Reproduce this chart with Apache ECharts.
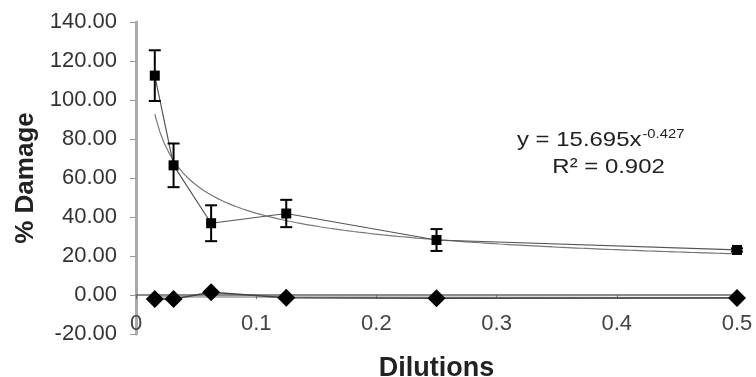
<!DOCTYPE html>
<html>
<head>
<meta charset="utf-8">
<script src="https://cdn.jsdelivr.net/npm/echarts@6/dist/echarts.min.js"></script>
<style>
html,body{margin:0;padding:0;background:#fff;}
#chart{width:756px;height:377px;}
</style>
</head>
<body>
<div id="chart"></div>
<script>
// Data
var dilutions = [0.015625, 0.03125, 0.0625, 0.125, 0.25, 0.5];
var damageMean = [112.5, 66.5, 36.8, 41.8, 28.2, 23.1];
var damageErr = [13.0, 11.2, 9.2, 7.0, 5.6, 0.8];
var controlMean = [-2.0, -2.0, 1.4, -1.4, -1.7, -1.5];
var yTicks = [-20, 0, 20, 40, 60, 80, 100, 120, 140];
var xTicks = [0, 0.1, 0.2, 0.3, 0.4, 0.5];
// Power trendline as shown on the chart: y = 15.695 x^-0.427
var powerCoef = 15.695;
var powerExp = -0.427;
// Linear trend of control series
var ctrlIntercept = -1.0;
var ctrlSlope = -0.6;

var trendPts = [];
var xStart = dilutions[0], xEnd = dilutions[dilutions.length - 1];
var steps = 120;
for (var i = 0; i <= steps; i++) {
  var x = xStart + (xEnd - xStart) * i / steps;
  trendPts.push([x, powerCoef * Math.pow(x, powerExp)]);
}
var ctrlTrend = [[xStart, ctrlIntercept + ctrlSlope * xStart], [xEnd, ctrlIntercept + ctrlSlope * xEnd]];

var mainPts = dilutions.map(function (x, i) { return [x, damageMean[i]]; });
var ctrlPts = dilutions.map(function (x, i) { return [x, controlMean[i]]; });
var errData = dilutions.map(function (x, i) { return [x, damageMean[i] - damageErr[i], damageMean[i] + damageErr[i]]; });

var chart = echarts.init(document.getElementById('chart'));
var font = 'Liberation Sans, Arial, sans-serif';
var xMin = xTicks[0], xMax = xTicks[xTicks.length - 1], xStep = xTicks[1] - xTicks[0];
var yMin = yTicks[0], yMax = yTicks[yTicks.length - 1], yStep = yTicks[1] - yTicks[0];
chart.setOption({
  animation: false,
  backgroundColor: '#fff',
  grid: { left: 136, right: 19, top: 22, bottom: 43, containLabel: false, outerBoundsMode: 'none' },
  xAxis: [
    {
      type: 'value', min: xMin, max: xMax, interval: xStep,
      axisLine: { onZero: true, lineStyle: { color: '#666', width: 1.5 } },
      axisTick: { show: true, length: 4, lineStyle: { color: '#666' } },
      axisLabel: { show: false },
      splitLine: { show: false }
    },
    {
      type: 'value', min: xMin, max: xMax, interval: xStep, position: 'bottom',
      offset: -26,
      name: 'Dilutions', nameLocation: 'middle', nameGap: 47,
      nameTextStyle: { fontFamily: font, fontSize: 27, fontWeight: 'bold', color: '#222' },
      axisLine: { show: false, onZero: false },
      axisTick: { show: false },
      axisLabel: { fontFamily: font, fontSize: 22, color: '#444', margin: 5,
        formatter: function (v) { return String(Math.round(v * 10) / 10); } },
      splitLine: { show: false }
    }
  ],
  yAxis: {
    type: 'value', min: yMin, max: yMax, interval: yStep,
    name: '% Damage', nameLocation: 'middle', nameGap: 105,
    nameTextStyle: { fontFamily: font, fontSize: 26, fontWeight: 'bold', color: '#222', verticalAlign: 'middle' },
    axisLine: { show: true, lineStyle: { color: '#aaa', width: 3 } },
    axisTick: { show: true, length: 6, lineStyle: { color: '#999' } },
    axisLabel: { fontFamily: font, fontSize: 22, color: '#333', margin: 19,
      formatter: function (v) { return v.toFixed(2); } },
    splitLine: { show: false }
  },
  series: [
    {
      type: 'line', data: trendPts, showSymbol: false, symbol: 'none',
      lineStyle: { color: '#777', width: 1.2 }, z: 2
    },
    {
      type: 'line', data: ctrlTrend, symbol: 'none',
      lineStyle: { color: '#888', width: 1.2 }, z: 2
    },
    {
      type: 'line', data: mainPts, symbol: 'rect', symbolSize: 10,
      itemStyle: { color: '#000' }, lineStyle: { color: '#555', width: 1.2 }, z: 4
    },
    {
      type: 'line', data: ctrlPts, symbol: 'diamond', symbolSize: [18, 18],
      itemStyle: { color: '#000' }, lineStyle: { color: '#444', width: 1.5 }, z: 4
    },
    {
      type: 'custom', data: errData, z: 5,
      renderItem: function (params, api) {
        var x = api.value(0);
        var lo = api.coord([x, api.value(1)]);
        var hi = api.coord([x, api.value(2)]);
        var hw = 6;
        var st = { stroke: '#000', lineWidth: 2 };
        return {
          type: 'group',
          children: [
            { type: 'line', shape: { x1: lo[0], y1: lo[1], x2: hi[0], y2: hi[1] }, style: st },
            { type: 'line', shape: { x1: lo[0] - hw, y1: lo[1], x2: lo[0] + hw, y2: lo[1] }, style: st },
            { type: 'line', shape: { x1: hi[0] - hw, y1: hi[1], x2: hi[0] + hw, y2: hi[1] }, style: st }
          ]
        };
      }
    }
  ],
  graphic: [
    {
      type: 'group', x: 517, y: 130, scaleX: 1.14, scaleY: 1,
      children: [
        { type: 'text', x: 0, y: 0, style: { text: 'y = 15.695x', fontFamily: font, fontSize: 21, fill: '#222' } },
        { type: 'text', x: 110, y: -2, style: { text: '-0.427', fontFamily: font, fontSize: 13, fill: '#222' } },
        { type: 'text', x: 31, y: 27, style: { text: 'R² = 0.902', fontFamily: font, fontSize: 21, fill: '#222' } }
      ]
    }
  ]
});
</script>
</body>
</html>
